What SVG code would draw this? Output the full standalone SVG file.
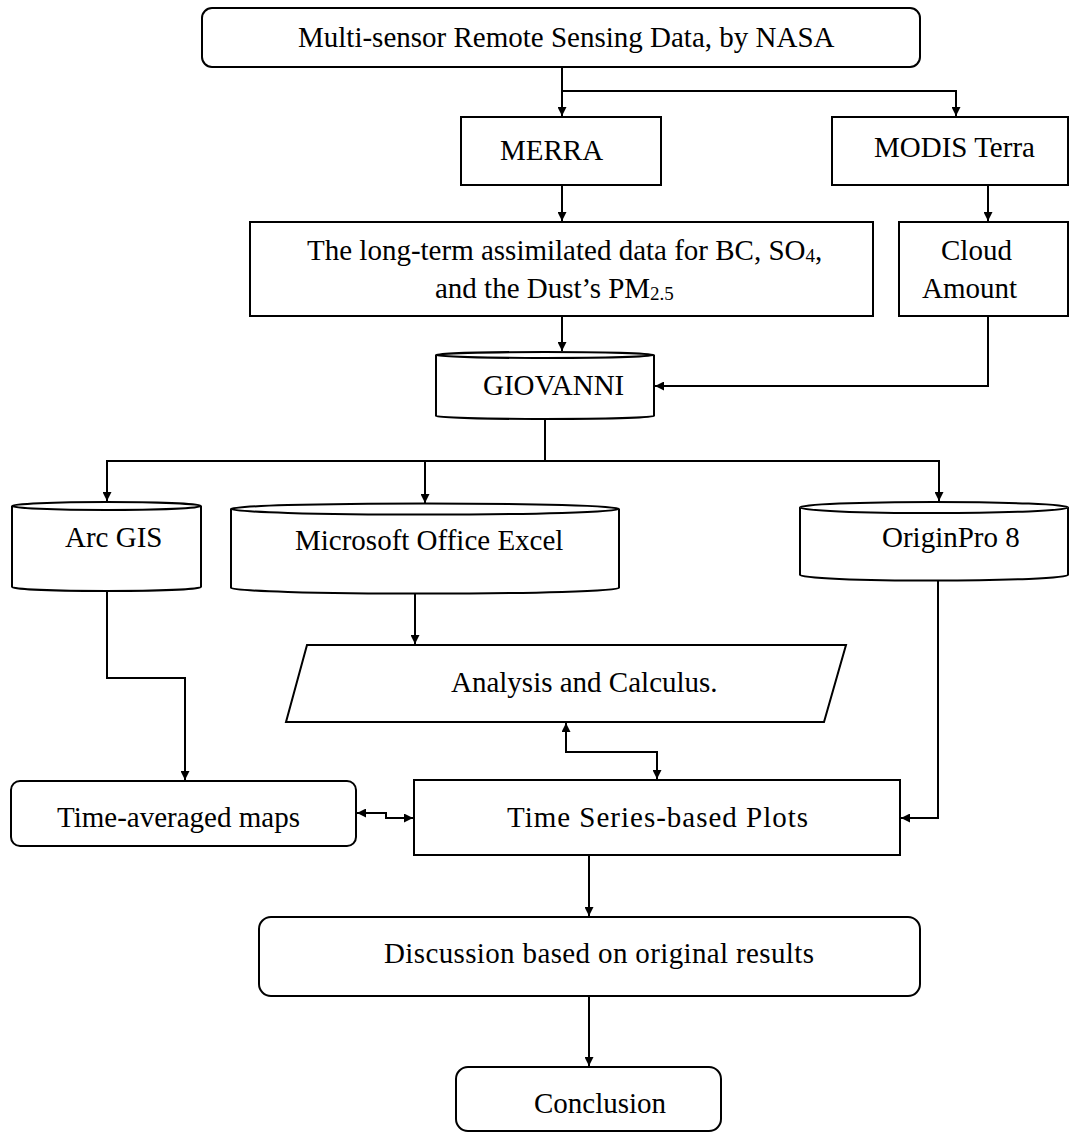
<svg xmlns="http://www.w3.org/2000/svg" width="1069" height="1134" viewBox="0 0 1069 1134">
<style>
  .box { fill: #fff; stroke: #000; stroke-width: 2; }
  .cyl { fill: #fff; stroke: #000; stroke-width: 2; stroke-linejoin: round; }
  .con { fill: none; stroke: #000; stroke-width: 2; }
  .arr { marker-end: url(#ah); }
  .dbl { marker-start: url(#ah); marker-end: url(#ah); }
  text { font-family: "Liberation Serif", "Times New Roman", serif; font-size: 29px; fill: #000; }
  .sub { font-size: 19px; }
</style>
<defs>
  <marker id="ah" viewBox="0 0 10 10" refX="10" refY="5" markerWidth="10" markerHeight="9" markerUnits="userSpaceOnUse" orient="auto-start-reverse">
    <path d="M0,0 L10,5 L0,10 z" fill="#000"/>
  </marker>
</defs>
<rect width="1069" height="1134" fill="#fff"/>

<g id="connectors">
  <path class="con arr" d="M562,67 V116"/>
  <path class="con arr" d="M562,91 H956 V116"/>
  <path class="con arr" d="M562,185 V221"/>
  <path class="con arr" d="M988,185 V221"/>
  <path class="con arr" d="M562,316 V351"/>
  <path class="con arr" d="M988,316 V386 H655"/>
  <path class="con arr" d="M545,420 V461 H107 V501"/>
  <path class="con arr" d="M545,461 H939 V501"/>
  <path class="con arr" d="M425,461 V503"/>
  <path class="con arr" d="M107,591 V678 H185 V780"/>
  <path class="con arr" d="M415,593 V644"/>
  <path class="con dbl" d="M566,723 V752 H657 V779"/>
  <path class="con dbl" d="M357,813 H386 V818 H413"/>
  <path class="con arr" d="M938,580 V818 H901"/>
  <path class="con arr" d="M589,855 V916"/>
  <path class="con arr" d="M589,996 V1066"/>
</g>

<g id="nasa">
  <rect class="box" x="202" y="8" width="718" height="59" rx="10"/>
  <text x="298" y="47">Multi-sensor Remote Sensing Data, by NASA</text>
</g>
<g id="merra">
  <rect class="box" x="461" y="117" width="200" height="68"/>
  <text x="500" y="160">MERRA</text>
</g>
<g id="modis">
  <rect class="box" x="832" y="117" width="236" height="68"/>
  <text x="874" y="157">MODIS Terra</text>
</g>
<g id="longterm">
  <rect class="box" x="250" y="222" width="623" height="94"/>
  <text x="307" y="260">The long-term assimilated data for BC, SO<tspan class="sub" dy="2">4</tspan><tspan dy="-2">,</tspan></text>
  <text x="435" y="298">and the Dust’s PM<tspan class="sub" dy="2">2.5</tspan></text>
</g>
<g id="cloud">
  <rect class="box" x="899" y="222" width="169" height="94"/>
  <text x="941" y="260">Cloud</text>
  <text x="922" y="298">Amount</text>
</g>
<g id="giovanni">
  <path class="cyl" d="M436,355 A109,3 0 0 1 654,355 L654,416 A109,3 0 0 1 436,416 Z"/>
  <path class="cyl" fill="none" d="M436,355 A109,3 0 0 0 654,355"/>
  <text x="483" y="395">GIOVANNI</text>
</g>
<g id="arcgis">
  <path class="cyl" d="M12,506 A94.5,4 0 0 1 201,506 L201,587 A94.5,4 0 0 1 12,587 Z"/>
  <path class="cyl" fill="none" d="M12,506 A94.5,4 0 0 0 201,506"/>
  <text x="65" y="547">Arc GIS</text>
</g>
<g id="excel">
  <path class="cyl" d="M231,509 A194,5.5 0 0 1 619,509 L619,588 A194,5.5 0 0 1 231,588 Z"/>
  <path class="cyl" fill="none" d="M231,509 A194,5.5 0 0 0 619,509"/>
  <text x="295" y="550">Microsoft Office Excel</text>
</g>
<g id="originpro">
  <path class="cyl" d="M800,507.5 A134,5.5 0 0 1 1068,507.5 L1068,575 A134,5.5 0 0 1 800,575 Z"/>
  <path class="cyl" fill="none" d="M800,507.5 A134,5.5 0 0 0 1068,507.5"/>
  <text x="882" y="547">OriginPro 8</text>
</g>
<g id="analysis">
  <polygon class="box" points="307,645 846,645 824,722 286,722"/>
  <text x="451" y="692">Analysis and Calculus.</text>
</g>
<g id="timeavg">
  <rect class="box" x="11" y="781" width="345" height="65" rx="9"/>
  <text x="57" y="827">Time-averaged maps</text>
</g>
<g id="timeseries">
  <rect class="box" x="414" y="780" width="486" height="75"/>
  <text x="507" y="827" textLength="301" lengthAdjust="spacing">Time Series-based Plots</text>
</g>
<g id="discussion">
  <rect class="box" x="259" y="917" width="661" height="79" rx="12"/>
  <text x="384" y="963" textLength="430" lengthAdjust="spacing">Discussion based on original results</text>
</g>
<g id="conclusion">
  <rect class="box" x="456" y="1067" width="265" height="64" rx="12"/>
  <text x="534" y="1113">Conclusion</text>
</g>
</svg>
